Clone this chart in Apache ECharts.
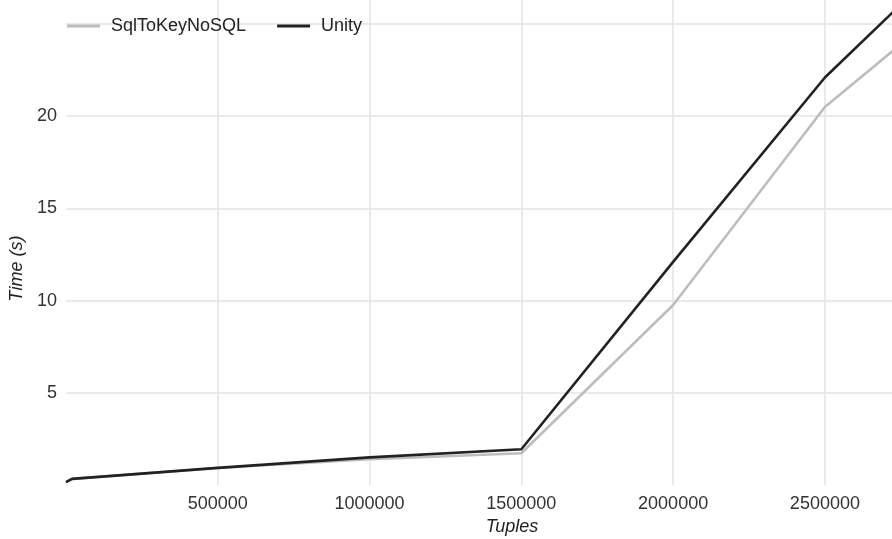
<!DOCTYPE html>
<html>
<head>
<meta charset="utf-8">
<script src="https://cdn.jsdelivr.net/npm/echarts@6/dist/echarts.min.js"></script>
<style>
  html, body { margin: 0; padding: 0; background: #fff; }
  #chart { width: 892px; height: 539px; }
</style>
</head>
<body>
<div id="chart"></div>
<script>
// Tuple counts on the x axis
const tuples = [0, 20000, 500000, 1000000, 1500000, 2000000, 2500000, 3000000];
// Run times in seconds
const sqlToKeyNoSQL = [0.15, 0.33, 0.92, 1.4, 1.72, 9.76, 20.5, 27.3];
const unity = [0.15, 0.33, 0.93, 1.5, 1.94, 12.1, 22.1, 30.0];

const seriesNames = ['SqlToKeyNoSQL', 'Unity'];
const seriesValues = [sqlToKeyNoSQL, unity];
const seriesColors = ['#bdbdbd', '#222222'];

const font = 'Liberation Sans, Arial, sans-serif';
const chart = echarts.init(document.getElementById('chart'));

chart.setOption({
  animation: false,
  backgroundColor: '#ffffff',
  textStyle: { fontFamily: font },
  legend: {
    left: 67,
    top: 17,
    padding: 0,
    icon: 'rect',
    itemWidth: 33,
    itemHeight: 3,
    itemGap: 31,
    textStyle: { fontFamily: font, fontSize: 18, color: '#222', padding: [0, 0, 0, 6] },
    data: seriesNames
  },
  grid: { left: 66, right: 0, top: 0, bottom: 54, outerBoundsMode: 'none' },
  xAxis: {
    type: 'value',
    min: 0,
    max: 2721000,
    interval: 500000,
    name: 'Tuples',
    nameLocation: 'middle',
    nameGap: 32,
    nameTextStyle: { fontFamily: font, fontSize: 18, fontStyle: 'italic', color: '#222', padding: [0, 0, 0, 66] },
    axisLine: { show: false },
    axisTick: { show: false },
    axisLabel: {
      margin: 10,
      fontFamily: font,
      fontSize: 18,
      color: '#333',
      showMinLabel: false,
      showMaxLabel: false,
      formatter: v => (v === 0 || v % 500000 !== 0 ? '' : String(v))
    },
    splitLine: { show: true, showMinLine: false, showMaxLine: false, lineStyle: { color: '#e3e3e3', width: 1.5 } }
  },
  yAxis: {
    type: 'value',
    min: 0,
    max: 26.3,
    interval: 5,
    name: 'Time (s)',
    nameLocation: 'middle',
    nameGap: 38,
    nameTextStyle: { fontFamily: font, fontSize: 18, fontStyle: 'italic', color: '#222', padding: [0, 52, 0, 0] },
    axisLine: { show: false },
    axisTick: { show: false },
    axisLabel: {
      margin: 9,
      fontFamily: font,
      fontSize: 18,
      color: '#333',
      showMinLabel: false,
      showMaxLabel: false,
      formatter: v => (v === 0 || v >= 25 ? '' : String(v))
    },
    splitLine: { show: true, showMinLine: false, showMaxLine: false, lineStyle: { color: '#e3e3e3', width: 1.5 } }
  },
  series: seriesNames.map((name, i) => ({
    name: name,
    type: 'line',
    data: tuples.map((t, j) => [t, seriesValues[i][j]]),
    showSymbol: false,
    symbol: 'none',
    clip: true,
    color: seriesColors[i],
    lineStyle: { color: seriesColors[i], width: 2.6 },
    z: 2 + i
  }))
});
</script>
</body>
</html>
